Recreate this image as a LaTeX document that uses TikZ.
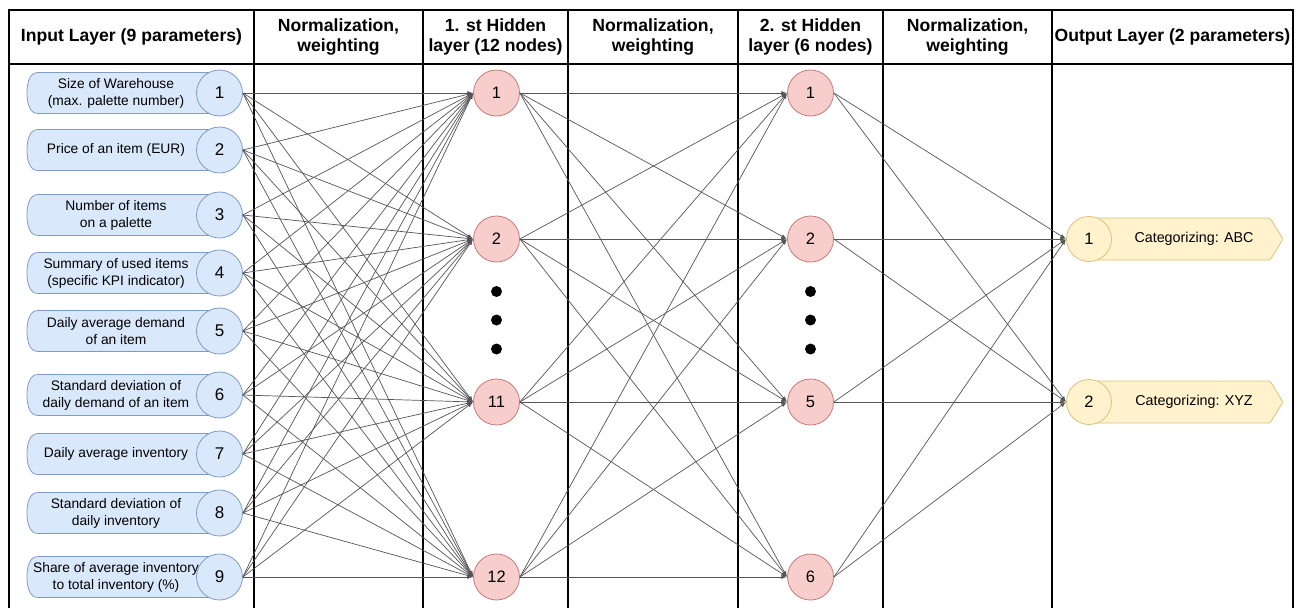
\documentclass[tikz,border=0pt]{standalone}
\usepackage{fontspec}
\setmainfont{Liberation Sans}
\usetikzlibrary{arrows.meta}
\definecolor{inFill}{HTML}{DAE8FC}
\definecolor{inLine}{HTML}{7F9CC9}
\definecolor{hidFill}{HTML}{F8CECC}
\definecolor{hidLine}{HTML}{C77A77}
\definecolor{outFill}{HTML}{FFF2CC}
\definecolor{outLine}{HTML}{DCC27A}
\definecolor{edgeGray}{HTML}{555555}
\tikzset{
  tbl/.style={line width=2pt, black},
  hdr/.style={font=\fontsize{17.6}{20.5}\selectfont\bfseries, align=center, inner sep=0pt},
  edge/.style={draw=edgeGray, line width=0.7pt, -{Latex[length=5.5pt,width=4pt]}, shorten >=0.3pt},
  inshape/.style={fill=inFill, draw=inLine, line width=0.8pt},
  outshape/.style={fill=outFill, draw=outLine, line width=0.8pt},
  incirc/.style={circle, fill=inFill, draw=inLine, line width=0.8pt, minimum size=46pt, inner sep=0pt, font=\fontsize{17}{17}\selectfont},
  hidcirc/.style={circle, fill=hidFill, draw=hidLine, line width=0.8pt, minimum size=46pt, inner sep=0pt, font=\fontsize{16.5}{16.5}\selectfont},
  outcirc/.style={circle, fill=outFill, draw=outLine, line width=0.8pt, minimum size=45pt, inner sep=0pt, font=\fontsize{16.5}{16.5}\selectfont},
  intxt/.style={font=\fontsize{13.8}{17}\selectfont, align=center, inner sep=0pt},
  outtxt/.style={font=\fontsize{14.3}{17}\selectfont, inner sep=0pt},
  ellip/.style={circle, fill=black, minimum size=11pt, inner sep=0pt}
}
\begin{document}
\begin{tikzpicture}[x=1pt, y=-1pt]
\useasboundingbox (0,0) rectangle (1297,608);
\fill[white] (0,0) rectangle (1297,608);

% table grid
\draw[tbl] (9,608) -- (9,10) -- (1293,10) -- (1293,608);
\draw[tbl] (9,64) -- (1293,64);
\foreach \x in {254,423,568,738,883,1052}
  \draw[tbl] (\x,10) -- (\x,608);

% column headers
\node[hdr] (t1) at (131.5,37) {Input Layer (9 parameters)};
\node[hdr] (t2) at (338.5,37) {Normalization,\\weighting};
\node[hdr] (t3) at (495.5,37) {1. st Hidden\\layer (12 nodes)};
\node[hdr] (t4) at (653,37) {Normalization,\\weighting};
\node[hdr] (t5) at (810.5,37) {2. st Hidden\\layer (6 nodes)};
\node[hdr] (t6) at (967.5,37) {Normalization,\\weighting};
\node[hdr] (t7) at (1172.5,37) {Output Layer (2 parameters)};

% input layer: label pill + numbered circle
\foreach \i/\y/\txt in {
  1/93/{Size of Warehouse\\(max. palette number)},
  2/150/{Price of an item (EUR)},
  3/215/{Number of items\\on a palette},
  4/273/{Summary of used items\\(specific KPI indicator)},
  5/331/{Daily average demand\\of an item},
  6/395/{Standard deviation of\\daily demand of an item},
  7/454/{Daily average inventory},
  8/513/{Standard deviation of\\daily inventory},
  9/577/{Share of average inventory\\to total inventory (\%)}}{
  \draw[inshape] (219,\y-20.5) -- (38,\y-20.5)
     .. controls (29,\y-20.5) and (27,\y-9) .. (27,\y)
     .. controls (27,\y+9) and (29,\y+20.5) .. (38,\y+20.5)
     -- (219,\y+20.5) -- cycle;
  \node[intxt] (lab\i) at (116,\y) {\txt};
  \node[incirc] (in\i) at (219.5,\y) {\i};
}

% first hidden layer
\node[hidcirc] (ha) at (496.5,93) {1};
\node[hidcirc] (hb) at (496.5,239) {2};
\node[hidcirc] (hc) at (496.5,402) {11};
\node[hidcirc] (hd) at (496.5,577) {12};
\node[ellip] (hdot1) at (496.5,291.5) {};
\node[ellip] (hdot2) at (496.5,320) {};
\node[ellip] (hdot3) at (496.5,349) {};

% second hidden layer
\node[hidcirc] (ga) at (810.5,93) {1};
\node[hidcirc] (gb) at (810.5,239) {2};
\node[hidcirc] (gc) at (810.5,402) {5};
\node[hidcirc] (gd) at (810.5,577) {6};
\node[ellip] (gdot1) at (810.5,291.5) {};
\node[ellip] (gdot2) at (810.5,320) {};
\node[ellip] (gdot3) at (810.5,349) {};

% output layer
\foreach \k/\y/\txt in {1/239/{Categorizing: ABC}, 2/402/{Categorizing: XYZ}}{
  \draw[outshape, rounded corners=1.5pt] (1089,\y-21) -- (1270,\y-21) -- (1283,\y)
     -- (1270,\y+21) -- (1089,\y+21) -- cycle;
  \node[outtxt] (olab\k) at (1194,\y) {\txt};
  \node[outcirc] (o\k) at (1089,\y) {\k};
}

% fully connected layers
\foreach \a in {1,...,9}
  \foreach \b in {ha,hb,hc,hd}
    \draw[edge] (in\a.east) -- (\b.west);
\foreach \a in {ha,hb,hc,hd}
  \foreach \b in {ga,gb,gc,gd}
    \draw[edge] (\a.east) -- (\b.west);
\foreach \a in {ga,gb,gc,gd}
  \foreach \b in {o1,o2}
    \draw[edge] (\a.east) -- (\b.west);
\end{tikzpicture}
\end{document}
